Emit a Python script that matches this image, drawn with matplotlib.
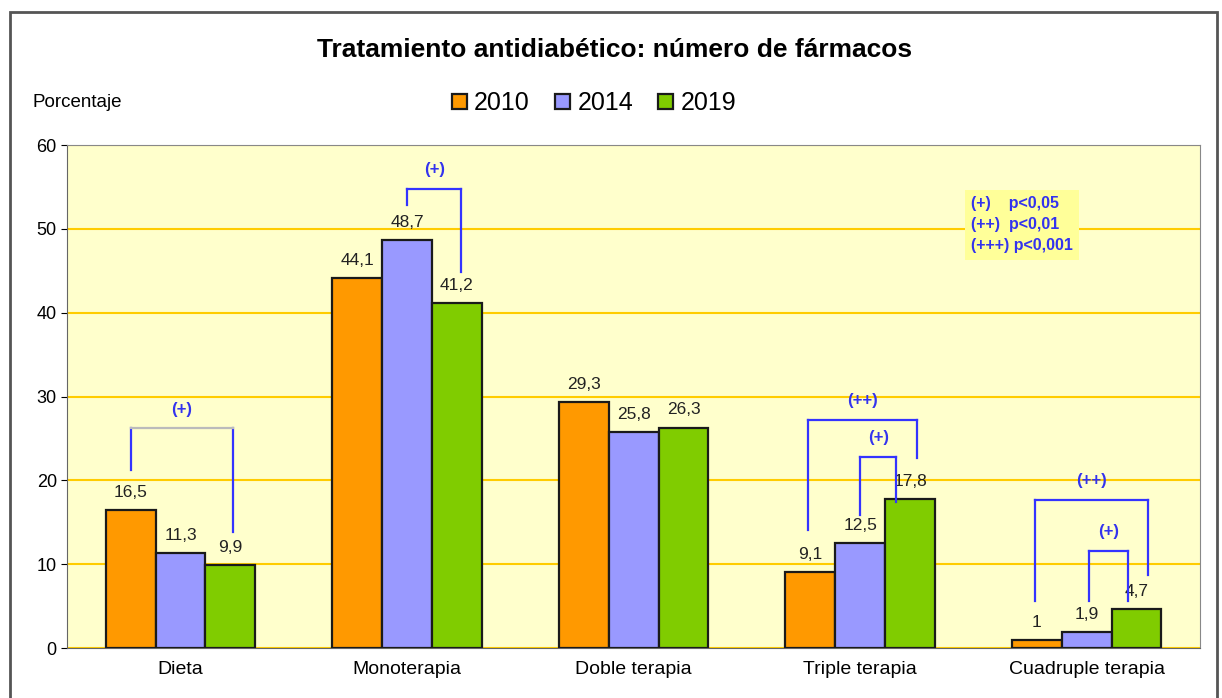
import matplotlib.pyplot as plt
import numpy as np
from matplotlib.patches import Rectangle

plt.rcParams['font.family'] = ['Liberation Sans', 'DejaVu Sans']

# datos
categorias = ['Dieta', 'Monoterapia', 'Doble terapia', 'Triple terapia', 'Cuadruple terapia']
anios = ['2010', '2014', '2019']
v2010 = [16.5, 44.1, 29.3, 9.1, 1.0]
v2014 = [11.3, 48.7, 25.8, 12.5, 1.9]
v2019 = [9.9, 41.2, 26.3, 17.8, 4.7]
etiq2010 = ['16,5', '44,1', '29,3', '9,1', '1']
etiq2014 = ['11,3', '48,7', '25,8', '12,5', '1,9']
etiq2019 = ['9,9', '41,2', '26,3', '17,8', '4,7']
colores = ['#FF9900', '#9999FF', '#80CC00']

# corchetes de significacion: (x izq, x der, y pie izq, y arriba, y pie der, etiqueta)
corchetes = [
    (-0.22, 0.23, 21.2, 26.2, 13.8, '(+)'),
    (1.00, 1.24, 52.8, 54.75, 44.85, '(+)'),
    (2.77, 3.25, 14.1, 27.2, 22.7, '(++)'),
    (3.00, 3.16, 15.9, 22.8, 17.4, '(+)'),
    (3.77, 4.27, 5.6, 17.65, 8.7, '(++)'),
    (4.01, 4.18, 5.6, 11.6, 5.6, '(+)'),
]

fig = plt.figure(figsize=(12.22, 6.98), dpi=100)
ax = fig.add_axes([0.055, 0.0716, 0.927, 0.7206])
ax.set_facecolor('#FFFFCC')

x = np.arange(len(categorias))
w = 0.22
series = [v2010, v2014, v2019]
etiquetas = [etiq2010, etiq2014, etiq2019]
for i in range(3):
    xs = x + (i - 1) * w
    ax.bar(xs, series[i], w, color=colores[i], edgecolor='#1a1a1a', linewidth=1.6,
           label=anios[i], zorder=3)
    for xx, vv, tt in zip(xs, series[i], etiquetas[i]):
        ax.text(xx, vv + 1.2, tt, ha='center', va='bottom', fontsize=12.5,
                color='#222222', zorder=4)

azul = '#3333FF'
for x0, x1, yl, yt, yr, lab in corchetes:
    ax.plot([x0, x0], [yl, yt], color=azul, lw=1.6, zorder=5)
    ax.plot([x1, x1], [yt, yr], color=azul, lw=1.6, zorder=5)
    top_col = '#BBBBBB' if lab == '(+)' and x0 < 0 else azul
    ax.plot([x0, x1], [yt, yt], color=top_col, lw=1.6, zorder=5)
    ax.text((x0 + x1) / 2, yt + 1.4, lab, ha='center', va='bottom', fontsize=12,
            fontweight='bold', color='#3333EE', zorder=5)

ax.set_xlim(-0.5, 4.5)
ax.set_ylim(0, 60)
ax.set_yticks(range(0, 61, 10))
ax.set_xticks(x)
ax.set_xticklabels(categorias, fontsize=14)
ax.tick_params(axis='y', labelsize=13, length=4)
ax.tick_params(axis='x', length=0, pad=9)
ax.grid(axis='y', color='#FFCC00', lw=1.5, zorder=1)
for s in ['top', 'right']:
    ax.spines[s].set_color('#888888')
ax.spines['left'].set_color('#666666')
ax.spines['bottom'].set_color('#666666')

# cuadro de significacion
ax.text(3.49, 50.5, '(+)    p<0,05\n(++)  p<0,01\n(+++) p<0,001', fontsize=11.5,
        fontweight='bold', color='#3333EE', va='center', ha='left', linespacing=1.5,
        bbox=dict(boxstyle='square,pad=0.4', fc='#FFFF99', ec='none'), zorder=6)

fig.text(0.503, 0.928, 'Tratamiento antidiabético: número de fármacos', ha='center',
         va='center', fontsize=19, fontweight='bold')
fig.text(0.027, 0.853, 'Porcentaje', ha='left', va='center', fontsize=13.5)
fig.legend(loc='center', bbox_to_anchor=(0.486, 0.852), ncol=3, frameon=False,
           fontsize=18, handlelength=0.6, handleheight=0.6, handletextpad=0.3,
           columnspacing=1.0)

# marco exterior
fig.patches.append(Rectangle((0.008, -0.05), 0.988, 1.033, transform=fig.transFigure,
                             fill=False, ec='#555555', lw=2))

plt.savefig('out.png', dpi=100)
